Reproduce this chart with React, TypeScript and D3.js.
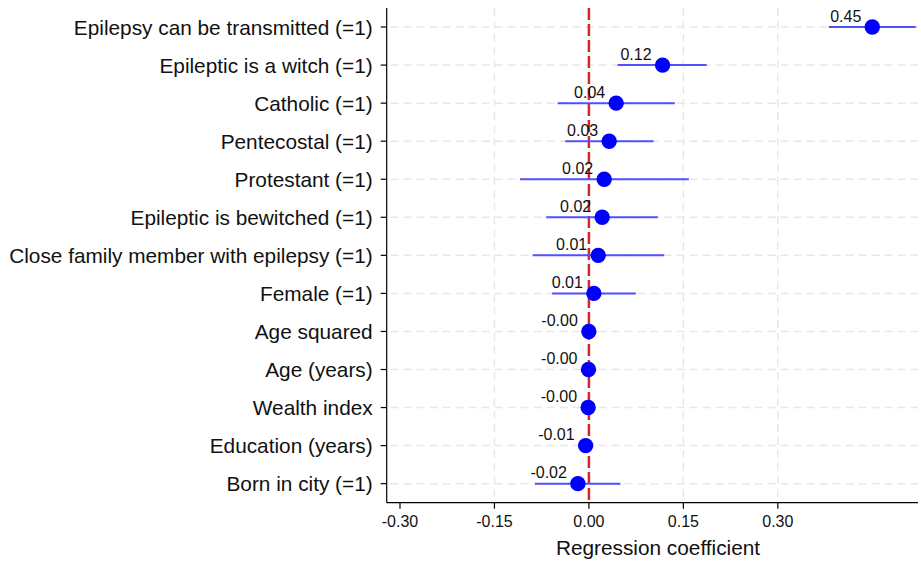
import React from "react";
import * as d3 from "d3";

const labels = [
  "Epilepsy can be transmitted (=1)",
  "Epileptic is a witch (=1)",
  "Catholic (=1)",
  "Pentecostal (=1)",
  "Protestant (=1)",
  "Epileptic is bewitched (=1)",
  "Close family member with epilepsy (=1)",
  "Female (=1)",
  "Age squared",
  "Age (years)",
  "Wealth index",
  "Education (years)",
  "Born in city (=1)",
];
const coefs = [0.45, 0.117, 0.0433, 0.0322, 0.0243, 0.0211, 0.0148, 0.0079, -0.0001, -0.0006, -0.0012, -0.0052, -0.0175];
const ciLow = [0.381, 0.0456, -0.0497, -0.0376, -0.1095, -0.0678, -0.0894, -0.0583, -0.0003, -0.0012, -0.0025, -0.009, -0.0857];
const ciHigh = [0.519, 0.187, 0.1365, 0.1027, 0.1587, 0.1095, 0.1195, 0.0746, 0.0001, 0.0, 0.0001, -0.0014, 0.050];
const xTicks = [-0.3, -0.15, 0, 0.15, 0.3];
const gridTicks = [-0.15, 0.15, 0.3];
const xTitle = "Regression coefficient";

const W = 921;
const H = 561;
const left = 386.7;
const right = 918;
const top = 8;
const bottom = 502.7;
const FONT = "'Liberation Sans', Arial, Helvetica, sans-serif";

export default function App() {
  const x = d3.scaleLinear().domain([-0.3211, 0.5226]).range([left, right]);
  const y = d3.scalePoint<string>().domain(labels).range([top, bottom]).padding(0.5);
  const rows = labels.map((l, i) => ({ l, c: coefs[i], lo: ciLow[i], hi: ciHigh[i], cy: y(l) as number }));
  return (
    <svg width={W} height={H} style={{ position: "absolute", left: 0, top: 0, background: "#fff" }}>
      <defs>
        <clipPath id="plot">
          <rect x={left} y={top} width={right - left} height={bottom - top} />
        </clipPath>
      </defs>
      {rows.map((r) => (
        <line key={"hg" + r.l} x1={left + 4} x2={right} y1={r.cy} y2={r.cy} stroke="#e8e8e8" strokeWidth={1.5} strokeDasharray="8 5" />
      ))}
      {gridTicks.map((t) => (
        <line key={"vg" + t} x1={x(t)} x2={x(t)} y1={top} y2={bottom} stroke="#e8e8e8" strokeWidth={1.5} strokeDasharray="8 5" />
      ))}
      <line x1={x(0)} x2={x(0)} y1={top} y2={bottom} stroke="#d8262a" strokeWidth={2.5} strokeDasharray="12 4" />
      <g clipPath="url(#plot)">
        {rows.map((r) => (
          <line key={"ci" + r.l} x1={x(r.lo)} x2={x(r.hi)} y1={r.cy} y2={r.cy} stroke="#5050ff" strokeWidth={2} />
        ))}
        {rows.map((r) => (
          <circle key={"pt" + r.l} cx={x(r.c)} cy={r.cy} r={7.7} fill="#0000ff" />
        ))}
      </g>
      {rows.map((r) => (
        <text key={"vl" + r.l} x={x(r.c) - 11} y={r.cy - 5.5} textAnchor="end" fontFamily={FONT} fontSize={16} fill="#111">
          {r.c.toFixed(2)}
        </text>
      ))}
      <line x1={left} x2={left} y1={top} y2={bottom} stroke="#000" strokeWidth={1.2} />
      <line x1={left} x2={right} y1={bottom} y2={bottom} stroke="#000" strokeWidth={1.2} />
      {rows.map((r) => (
        <g key={"yt" + r.l}>
          <line x1={left - 6} x2={left} y1={r.cy} y2={r.cy} stroke="#000" strokeWidth={1.2} />
          <text x={left - 14} y={r.cy} dy="0.37em" textAnchor="end" fontFamily={FONT} fontSize={20.8} fill="#111">
            {r.l}
          </text>
        </g>
      ))}
      {xTicks.map((t) => (
        <g key={"xt" + t}>
          <line x1={x(t)} x2={x(t)} y1={bottom} y2={bottom + 6} stroke="#000" strokeWidth={1.2} />
          <text x={x(t)} y={bottom + 24.3} textAnchor="middle" fontFamily={FONT} fontSize={16} fill="#111">
            {t.toFixed(2)}
          </text>
        </g>
      ))}
      <text x={658} y={555} textAnchor="middle" fontFamily={FONT} fontSize={20.8} fill="#111">
        {xTitle}
      </text>
    </svg>
  );
}
